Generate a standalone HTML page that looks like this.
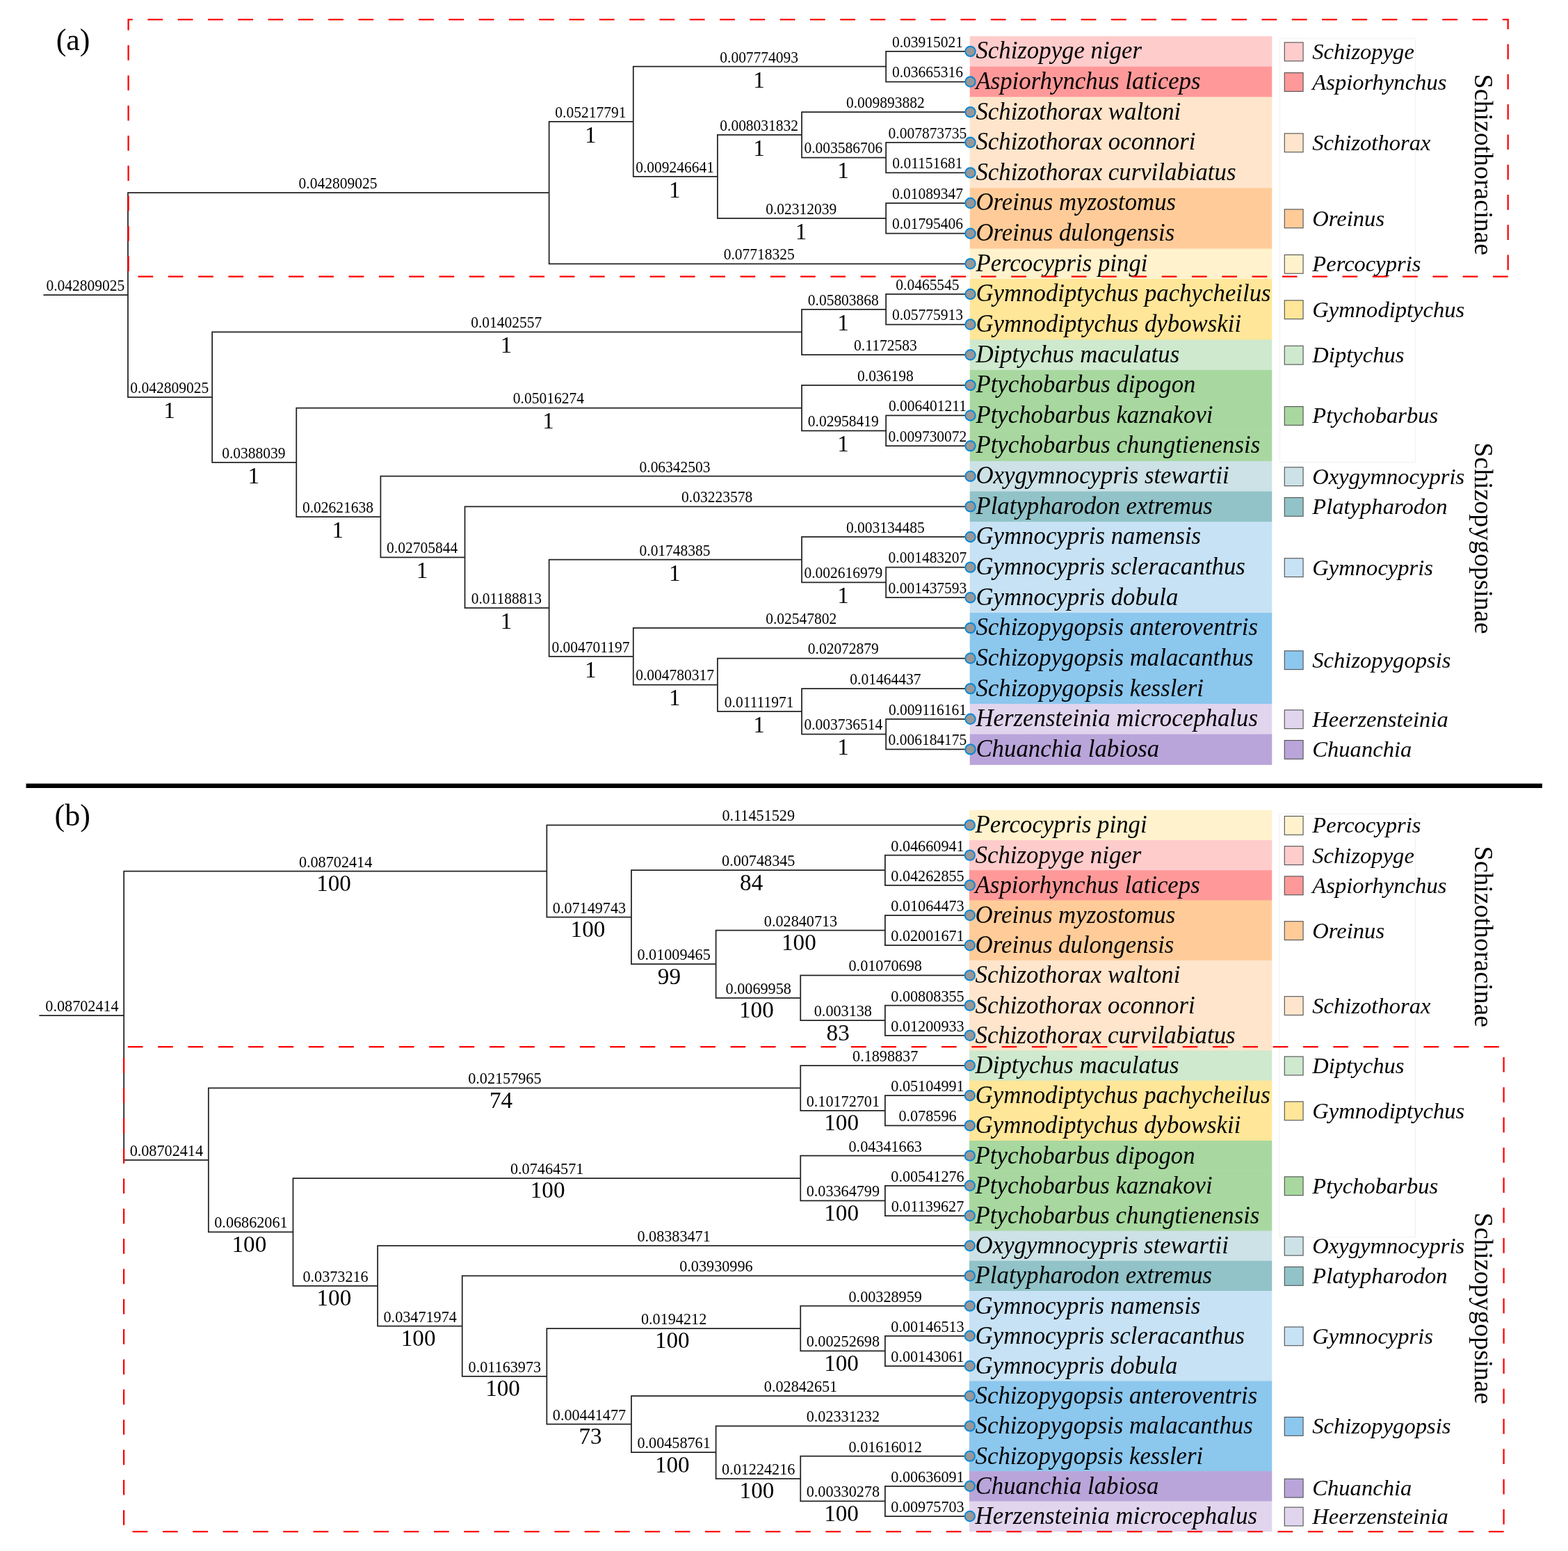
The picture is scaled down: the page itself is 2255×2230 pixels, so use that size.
<!DOCTYPE html>
<html><head><meta charset="utf-8"><title>Phylogenetic trees</title>
<style>
html,body{margin:0;padding:0;background:#fff;overflow:hidden;}
svg{display:block;}
text{font-family:"Liberation Serif","Times New Roman",serif;fill:#000;}
.bl{text-anchor:middle;}
.sp{text-anchor:middle;font-size:33.2px;}
.sn{font-style:italic;font-size:34.8px;}
.lg{font-style:italic;font-size:32.6px;}
.vl{font-size:37.85px;}
.pl{font-size:44px;}
</style></head><body>
<svg width="2255" height="2230" viewBox="0 0 2255 2230">
<rect width="2255" height="2230" fill="#fff"/>
<rect x="1394.7" y="52.09" width="434.6" height="44.23" fill="#FFCCCC"/>
<rect x="1394.7" y="95.72" width="434.6" height="44.23" fill="#FF9999"/>
<rect x="1394.7" y="139.35" width="434.6" height="44.23" fill="#FFE5CC"/>
<rect x="1394.7" y="182.98" width="434.6" height="44.23" fill="#FFE5CC"/>
<rect x="1394.7" y="226.61" width="434.6" height="44.23" fill="#FFE5CC"/>
<rect x="1394.7" y="270.24" width="434.6" height="44.23" fill="#FFCC99"/>
<rect x="1394.7" y="313.87" width="434.6" height="44.23" fill="#FFCC99"/>
<rect x="1394.7" y="357.5" width="434.6" height="44.23" fill="#FFF2CC"/>
<rect x="1394.7" y="401.13" width="434.6" height="44.23" fill="#FFE699"/>
<rect x="1394.7" y="444.76" width="434.6" height="44.23" fill="#FFE699"/>
<rect x="1394.7" y="488.39" width="434.6" height="44.23" fill="#CEE9CE"/>
<rect x="1394.7" y="532.01" width="434.6" height="44.23" fill="#A8D8A0"/>
<rect x="1394.7" y="575.64" width="434.6" height="44.23" fill="#A8D8A0"/>
<rect x="1394.7" y="619.27" width="434.6" height="44.23" fill="#A8D8A0"/>
<rect x="1394.7" y="662.9" width="434.6" height="44.23" fill="#CCE2E6"/>
<rect x="1394.7" y="706.53" width="434.6" height="44.23" fill="#91C3C8"/>
<rect x="1394.7" y="750.16" width="434.6" height="44.23" fill="#C7E2F4"/>
<rect x="1394.7" y="793.79" width="434.6" height="44.23" fill="#C7E2F4"/>
<rect x="1394.7" y="837.42" width="434.6" height="44.23" fill="#C7E2F4"/>
<rect x="1394.7" y="881.05" width="434.6" height="44.23" fill="#8CC7EE"/>
<rect x="1394.7" y="924.68" width="434.6" height="44.23" fill="#8CC7EE"/>
<rect x="1394.7" y="968.31" width="434.6" height="44.23" fill="#8CC7EE"/>
<rect x="1394.7" y="1011.94" width="434.6" height="44.23" fill="#E1D5EE"/>
<rect x="1394.7" y="1055.58" width="434.6" height="44.23" fill="#B9A5DA"/>
<path d="M184 277.05L184 571.13 M184 277.05L789.65 277.05 M789.65 174.79L789.65 379.31 M789.65 174.79L910.78 174.79 M910.78 95.72L910.78 253.87 M910.78 95.72L1274.17 95.72 M1274.17 73.9L1274.17 117.53 M1274.17 73.9L1395.3 73.9 M1274.17 117.53L1395.3 117.53 M910.78 253.87L1031.91 253.87 M1031.91 193.88L1031.91 313.87 M1031.91 193.88L1153.04 193.88 M1153.04 161.16L1153.04 226.61 M1153.04 161.16L1395.3 161.16 M1153.04 226.61L1274.17 226.61 M1274.17 204.79L1274.17 248.42 M1274.17 204.79L1395.3 204.79 M1274.17 248.42L1395.3 248.42 M1031.91 313.87L1274.17 313.87 M1274.17 292.05L1274.17 335.68 M1274.17 292.05L1395.3 292.05 M1274.17 335.68L1395.3 335.68 M789.65 379.31L1395.3 379.31 M184 571.13L305.13 571.13 M305.13 477.48L305.13 664.78 M305.13 477.48L1153.04 477.48 M1153.04 444.76L1153.04 510.2 M1153.04 444.76L1274.17 444.76 M1274.17 422.94L1274.17 466.57 M1274.17 422.94L1395.3 422.94 M1274.17 466.57L1395.3 466.57 M1153.04 510.2L1395.3 510.2 M305.13 664.78L426.26 664.78 M426.26 586.55L426.26 743.01 M426.26 586.55L1153.04 586.55 M1153.04 553.83L1153.04 619.28 M1153.04 553.83L1395.3 553.83 M1153.04 619.28L1274.17 619.28 M1274.17 597.46L1274.17 641.09 M1274.17 597.46L1395.3 597.46 M1274.17 641.09L1395.3 641.09 M426.26 743.01L547.39 743.01 M547.39 684.72L547.39 801.29 M547.39 684.72L1395.3 684.72 M547.39 801.29L668.52 801.29 M668.52 728.35L668.52 874.24 M668.52 728.35L1395.3 728.35 M668.52 874.24L789.65 874.24 M789.65 804.7L789.65 943.77 M789.65 804.7L1153.04 804.7 M1153.04 771.98L1153.04 837.42 M1153.04 771.98L1395.3 771.98 M1153.04 837.42L1274.17 837.42 M1274.17 815.61L1274.17 859.24 M1274.17 815.61L1395.3 815.61 M1274.17 859.24L1395.3 859.24 M789.65 943.77L910.78 943.77 M910.78 902.87L910.78 984.68 M910.78 902.87L1395.3 902.87 M910.78 984.68L1031.91 984.68 M1031.91 946.5L1031.91 1022.85 M1031.91 946.5L1395.3 946.5 M1031.91 1022.85L1153.04 1022.85 M1153.04 990.13L1153.04 1055.58 M1153.04 990.13L1395.3 990.13 M1153.04 1055.58L1274.17 1055.58 M1274.17 1033.76L1274.17 1077.39 M1274.17 1033.76L1395.3 1033.76 M1274.17 1077.39L1395.3 1077.39 M63.3 424.09L184 424.09" stroke="#222222" stroke-width="1.75" fill="none" stroke-linecap="square"/>
<circle cx="1395.5" cy="73.9" r="7.2" fill="#989898" stroke="#0a88d6" stroke-width="2"/>
<circle cx="1395.5" cy="117.53" r="7.2" fill="#989898" stroke="#0a88d6" stroke-width="2"/>
<circle cx="1395.5" cy="161.16" r="7.2" fill="#989898" stroke="#0a88d6" stroke-width="2"/>
<circle cx="1395.5" cy="204.79" r="7.2" fill="#989898" stroke="#0a88d6" stroke-width="2"/>
<circle cx="1395.5" cy="248.42" r="7.2" fill="#989898" stroke="#0a88d6" stroke-width="2"/>
<circle cx="1395.5" cy="292.05" r="7.2" fill="#989898" stroke="#0a88d6" stroke-width="2"/>
<circle cx="1395.5" cy="335.68" r="7.2" fill="#989898" stroke="#0a88d6" stroke-width="2"/>
<circle cx="1395.5" cy="379.31" r="7.2" fill="#989898" stroke="#0a88d6" stroke-width="2"/>
<circle cx="1395.5" cy="422.94" r="7.2" fill="#989898" stroke="#0a88d6" stroke-width="2"/>
<circle cx="1395.5" cy="466.57" r="7.2" fill="#989898" stroke="#0a88d6" stroke-width="2"/>
<circle cx="1395.5" cy="510.2" r="7.2" fill="#989898" stroke="#0a88d6" stroke-width="2"/>
<circle cx="1395.5" cy="553.83" r="7.2" fill="#989898" stroke="#0a88d6" stroke-width="2"/>
<circle cx="1395.5" cy="597.46" r="7.2" fill="#989898" stroke="#0a88d6" stroke-width="2"/>
<circle cx="1395.5" cy="641.09" r="7.2" fill="#989898" stroke="#0a88d6" stroke-width="2"/>
<circle cx="1395.5" cy="684.72" r="7.2" fill="#989898" stroke="#0a88d6" stroke-width="2"/>
<circle cx="1395.5" cy="728.35" r="7.2" fill="#989898" stroke="#0a88d6" stroke-width="2"/>
<circle cx="1395.5" cy="771.98" r="7.2" fill="#989898" stroke="#0a88d6" stroke-width="2"/>
<circle cx="1395.5" cy="815.61" r="7.2" fill="#989898" stroke="#0a88d6" stroke-width="2"/>
<circle cx="1395.5" cy="859.24" r="7.2" fill="#989898" stroke="#0a88d6" stroke-width="2"/>
<circle cx="1395.5" cy="902.87" r="7.2" fill="#989898" stroke="#0a88d6" stroke-width="2"/>
<circle cx="1395.5" cy="946.5" r="7.2" fill="#989898" stroke="#0a88d6" stroke-width="2"/>
<circle cx="1395.5" cy="990.13" r="7.2" fill="#989898" stroke="#0a88d6" stroke-width="2"/>
<circle cx="1395.5" cy="1033.76" r="7.2" fill="#989898" stroke="#0a88d6" stroke-width="2"/>
<circle cx="1395.5" cy="1077.39" r="7.2" fill="#989898" stroke="#0a88d6" stroke-width="2"/>
<text transform="translate(486.02 270.85) scale(1 1.05)" class="bl" style="font-size:21.5px">0.042809025</text>
<text transform="translate(849.41 168.59) scale(1 1.05)" class="bl" style="font-size:21.5px">0.05217791</text>
<text transform="translate(849.21 204.59) scale(1 1)" class="sp">1</text>
<text transform="translate(1091.67 89.52) scale(1 1.05)" class="bl" style="font-size:21.5px">0.007774093</text>
<text transform="translate(1091.47 125.52) scale(1 1)" class="sp">1</text>
<text transform="translate(1333.94 67.7) scale(1 1.05)" class="bl" style="font-size:21.5px">0.03915021</text>
<text transform="translate(1333.94 111.33) scale(1 1.05)" class="bl" style="font-size:21.5px">0.03665316</text>
<text transform="translate(970.54 247.67) scale(1 1.05)" class="bl" style="font-size:21.5px">0.009246641</text>
<text transform="translate(970.34 283.67) scale(1 1)" class="sp">1</text>
<text transform="translate(1091.67 187.68) scale(1 1.05)" class="bl" style="font-size:21.5px">0.008031832</text>
<text transform="translate(1091.47 223.68) scale(1 1)" class="sp">1</text>
<text transform="translate(1273.37 154.96) scale(1 1.05)" class="bl" style="font-size:21.5px">0.009893882</text>
<text transform="translate(1212.81 220.41) scale(1 1.05)" class="bl" style="font-size:21.5px">0.003586706</text>
<text transform="translate(1212.61 256.41) scale(1 1)" class="sp">1</text>
<text transform="translate(1333.94 198.59) scale(1 1.05)" class="bl" style="font-size:21.5px">0.007873735</text>
<text transform="translate(1333.94 242.22) scale(1 1.05)" class="bl" style="font-size:21.5px">0.01151681</text>
<text transform="translate(1152.24 307.67) scale(1 1.05)" class="bl" style="font-size:21.5px">0.02312039</text>
<text transform="translate(1152.04 343.67) scale(1 1)" class="sp">1</text>
<text transform="translate(1333.94 285.85) scale(1 1.05)" class="bl" style="font-size:21.5px">0.01089347</text>
<text transform="translate(1333.94 329.48) scale(1 1.05)" class="bl" style="font-size:21.5px">0.01795406</text>
<text transform="translate(1091.67 373.11) scale(1 1.05)" class="bl" style="font-size:21.5px">0.07718325</text>
<text transform="translate(243.76 564.93) scale(1 1.05)" class="bl" style="font-size:21.5px">0.042809025</text>
<text transform="translate(243.56 600.93) scale(1 1)" class="sp">1</text>
<text transform="translate(728.29 471.28) scale(1 1.05)" class="bl" style="font-size:21.5px">0.01402557</text>
<text transform="translate(728.09 507.28) scale(1 1)" class="sp">1</text>
<text transform="translate(1212.81 438.56) scale(1 1.05)" class="bl" style="font-size:21.5px">0.05803868</text>
<text transform="translate(1212.61 474.56) scale(1 1)" class="sp">1</text>
<text transform="translate(1333.94 416.74) scale(1 1.05)" class="bl" style="font-size:21.5px">0.0465545</text>
<text transform="translate(1333.94 460.37) scale(1 1.05)" class="bl" style="font-size:21.5px">0.05775913</text>
<text transform="translate(1273.37 504) scale(1 1.05)" class="bl" style="font-size:21.5px">0.1172583</text>
<text transform="translate(364.89 658.58) scale(1 1.05)" class="bl" style="font-size:21.5px">0.0388039</text>
<text transform="translate(364.69 694.58) scale(1 1)" class="sp">1</text>
<text transform="translate(788.85 580.35) scale(1 1.05)" class="bl" style="font-size:21.5px">0.05016274</text>
<text transform="translate(788.65 616.35) scale(1 1)" class="sp">1</text>
<text transform="translate(1273.37 547.63) scale(1 1.05)" class="bl" style="font-size:21.5px">0.036198</text>
<text transform="translate(1212.81 613.08) scale(1 1.05)" class="bl" style="font-size:21.5px">0.02958419</text>
<text transform="translate(1212.61 649.08) scale(1 1)" class="sp">1</text>
<text transform="translate(1333.94 591.26) scale(1 1.05)" class="bl" style="font-size:21.5px">0.006401211</text>
<text transform="translate(1333.94 634.89) scale(1 1.05)" class="bl" style="font-size:21.5px">0.009730072</text>
<text transform="translate(486.02 736.81) scale(1 1.05)" class="bl" style="font-size:21.5px">0.02621638</text>
<text transform="translate(485.82 772.81) scale(1 1)" class="sp">1</text>
<text transform="translate(970.55 678.52) scale(1 1.05)" class="bl" style="font-size:21.5px">0.06342503</text>
<text transform="translate(607.15 795.09) scale(1 1.05)" class="bl" style="font-size:21.5px">0.02705844</text>
<text transform="translate(606.95 831.09) scale(1 1)" class="sp">1</text>
<text transform="translate(1031.11 722.15) scale(1 1.05)" class="bl" style="font-size:21.5px">0.03223578</text>
<text transform="translate(728.29 868.04) scale(1 1.05)" class="bl" style="font-size:21.5px">0.01188813</text>
<text transform="translate(728.09 904.04) scale(1 1)" class="sp">1</text>
<text transform="translate(970.55 798.5) scale(1 1.05)" class="bl" style="font-size:21.5px">0.01748385</text>
<text transform="translate(970.35 834.5) scale(1 1)" class="sp">1</text>
<text transform="translate(1273.37 765.78) scale(1 1.05)" class="bl" style="font-size:21.5px">0.003134485</text>
<text transform="translate(1212.81 831.22) scale(1 1.05)" class="bl" style="font-size:21.5px">0.002616979</text>
<text transform="translate(1212.61 867.22) scale(1 1)" class="sp">1</text>
<text transform="translate(1333.94 809.41) scale(1 1.05)" class="bl" style="font-size:21.5px">0.001483207</text>
<text transform="translate(1333.94 853.04) scale(1 1.05)" class="bl" style="font-size:21.5px">0.001437593</text>
<text transform="translate(849.41 937.57) scale(1 1.05)" class="bl" style="font-size:21.5px">0.004701197</text>
<text transform="translate(849.21 973.57) scale(1 1)" class="sp">1</text>
<text transform="translate(1152.24 896.67) scale(1 1.05)" class="bl" style="font-size:21.5px">0.02547802</text>
<text transform="translate(970.54 978.48) scale(1 1.05)" class="bl" style="font-size:21.5px">0.004780317</text>
<text transform="translate(970.34 1014.48) scale(1 1)" class="sp">1</text>
<text transform="translate(1212.81 940.3) scale(1 1.05)" class="bl" style="font-size:21.5px">0.02072879</text>
<text transform="translate(1091.67 1016.65) scale(1 1.05)" class="bl" style="font-size:21.5px">0.01111971</text>
<text transform="translate(1091.47 1052.65) scale(1 1)" class="sp">1</text>
<text transform="translate(1273.37 983.93) scale(1 1.05)" class="bl" style="font-size:21.5px">0.01464437</text>
<text transform="translate(1212.81 1049.38) scale(1 1.05)" class="bl" style="font-size:21.5px">0.003736514</text>
<text transform="translate(1212.61 1085.38) scale(1 1)" class="sp">1</text>
<text transform="translate(1333.94 1027.56) scale(1 1.05)" class="bl" style="font-size:21.5px">0.009116161</text>
<text transform="translate(1333.94 1071.19) scale(1 1.05)" class="bl" style="font-size:21.5px">0.006184175</text>
<text transform="translate(122.85 417.89) scale(1 1.05)" class="bl" style="font-size:21.5px">0.042809025</text>
<text x="1403.4" y="84.3" class="sn">Schizopyge niger</text>
<text x="1403.4" y="127.93" class="sn">Aspiorhynchus laticeps</text>
<text x="1403.4" y="171.56" class="sn">Schizothorax waltoni</text>
<text x="1403.4" y="215.19" class="sn">Schizothorax oconnori</text>
<text x="1403.4" y="258.82" class="sn">Schizothorax curvilabiatus</text>
<text x="1403.4" y="302.45" class="sn">Oreinus myzostomus</text>
<text x="1403.4" y="346.08" class="sn">Oreinus dulongensis</text>
<text x="1403.4" y="389.71" class="sn">Percocypris pingi</text>
<text x="1403.4" y="433.34" class="sn">Gymnodiptychus pachycheilus</text>
<text x="1403.4" y="476.97" class="sn">Gymnodiptychus dybowskii</text>
<text x="1403.4" y="520.6" class="sn">Diptychus maculatus</text>
<text x="1403.4" y="564.23" class="sn">Ptychobarbus dipogon</text>
<text x="1403.4" y="607.86" class="sn">Ptychobarbus kaznakovi</text>
<text x="1403.4" y="651.49" class="sn">Ptychobarbus chungtienensis</text>
<text x="1403.4" y="695.12" class="sn">Oxygymnocypris stewartii</text>
<text x="1403.4" y="738.75" class="sn">Platypharodon extremus</text>
<text x="1403.4" y="782.38" class="sn">Gymnocypris namensis</text>
<text x="1403.4" y="826.01" class="sn">Gymnocypris scleracanthus</text>
<text x="1403.4" y="869.64" class="sn">Gymnocypris dobula</text>
<text x="1403.4" y="913.27" class="sn">Schizopygopsis anteroventris</text>
<text x="1403.4" y="956.9" class="sn">Schizopygopsis malacanthus</text>
<text x="1403.4" y="1000.53" class="sn">Schizopygopsis kessleri</text>
<text x="1403.4" y="1044.16" class="sn">Herzensteinia microcephalus</text>
<text x="1403.4" y="1087.79" class="sn">Chuanchia labiosa</text>
<rect x="1840.5" y="55.3" width="195" height="609.2" fill="none" stroke="#f1f1f1" stroke-width="1.1"/>
<rect x="1847.3" y="61" width="26.8" height="26.8" fill="#FFCCCC" stroke="#505050" stroke-width="1.1"/>
<text x="1887.3" y="84.9" class="lg">Schizopyge</text>
<rect x="1847.3" y="104.63" width="26.8" height="26.8" fill="#FF9999" stroke="#505050" stroke-width="1.1"/>
<text x="1887.3" y="128.53" class="lg">Aspiorhynchus</text>
<rect x="1847.3" y="191.89" width="26.8" height="26.8" fill="#FFE5CC" stroke="#505050" stroke-width="1.1"/>
<text x="1887.3" y="215.79" class="lg">Schizothorax</text>
<rect x="1847.3" y="300.97" width="26.8" height="26.8" fill="#FFCC99" stroke="#505050" stroke-width="1.1"/>
<text x="1887.3" y="324.87" class="lg">Oreinus</text>
<rect x="1847.3" y="366.41" width="26.8" height="26.8" fill="#FFF2CC" stroke="#505050" stroke-width="1.1"/>
<text x="1887.3" y="390.31" class="lg">Percocypris</text>
<rect x="1847.3" y="431.86" width="26.8" height="26.8" fill="#FFE699" stroke="#505050" stroke-width="1.1"/>
<text x="1887.3" y="455.76" class="lg">Gymnodiptychus</text>
<rect x="1847.3" y="497.3" width="26.8" height="26.8" fill="#CEE9CE" stroke="#505050" stroke-width="1.1"/>
<text x="1887.3" y="521.2" class="lg">Diptychus</text>
<rect x="1847.3" y="584.56" width="26.8" height="26.8" fill="#A8D8A0" stroke="#505050" stroke-width="1.1"/>
<text x="1887.3" y="608.46" class="lg">Ptychobarbus</text>
<rect x="1847.3" y="671.82" width="26.8" height="26.8" fill="#CCE2E6" stroke="#505050" stroke-width="1.1"/>
<text x="1887.3" y="695.72" class="lg">Oxygymnocypris</text>
<rect x="1847.3" y="715.45" width="26.8" height="26.8" fill="#91C3C8" stroke="#505050" stroke-width="1.1"/>
<text x="1887.3" y="739.35" class="lg">Platypharodon</text>
<rect x="1847.3" y="802.71" width="26.8" height="26.8" fill="#C7E2F4" stroke="#505050" stroke-width="1.1"/>
<text x="1887.3" y="826.61" class="lg">Gymnocypris</text>
<rect x="1847.3" y="935.8" width="26.8" height="26.8" fill="#8CC7EE" stroke="#505050" stroke-width="1.1"/>
<text x="1887.3" y="959.7" class="lg">Schizopygopsis</text>
<rect x="1847.3" y="1020.86" width="26.8" height="26.8" fill="#E1D5EE" stroke="#505050" stroke-width="1.1"/>
<text x="1887.3" y="1044.76" class="lg">Heerzensteinia</text>
<rect x="1847.3" y="1064.49" width="26.8" height="26.8" fill="#B9A5DA" stroke="#505050" stroke-width="1.1"/>
<text x="1887.3" y="1088.39" class="lg">Chuanchia</text>
<text transform="translate(2121.4 106.6) rotate(90)" x="0" y="0" class="vl">Schizothoracinae</text>
<text transform="translate(2121.4 636.3) rotate(90)" x="0" y="0" class="vl">Schizopygopsinae</text>
<path d="M2168.7 397.6H184.6V28H2168.7V397.6" fill="none" stroke="#ff0000" stroke-width="2.25" stroke-dasharray="21.7 21.6"/>
<rect x="1393.9" y="1164.8" width="435.4" height="43.8" fill="#FFF2CC"/>
<rect x="1393.9" y="1208" width="435.4" height="43.8" fill="#FFCCCC"/>
<rect x="1393.9" y="1251.2" width="435.4" height="43.8" fill="#FF9999"/>
<rect x="1393.9" y="1294.4" width="435.4" height="43.8" fill="#FFCC99"/>
<rect x="1393.9" y="1337.6" width="435.4" height="43.8" fill="#FFCC99"/>
<rect x="1393.9" y="1380.8" width="435.4" height="43.8" fill="#FFE5CC"/>
<rect x="1393.9" y="1424" width="435.4" height="43.8" fill="#FFE5CC"/>
<rect x="1393.9" y="1467.2" width="435.4" height="43.8" fill="#FFE5CC"/>
<rect x="1393.9" y="1510.4" width="435.4" height="43.8" fill="#CEE9CE"/>
<rect x="1393.9" y="1553.6" width="435.4" height="43.8" fill="#FFE699"/>
<rect x="1393.9" y="1596.8" width="435.4" height="43.8" fill="#FFE699"/>
<rect x="1393.9" y="1640" width="435.4" height="43.8" fill="#A8D8A0"/>
<rect x="1393.9" y="1683.2" width="435.4" height="43.8" fill="#A8D8A0"/>
<rect x="1393.9" y="1726.4" width="435.4" height="43.8" fill="#A8D8A0"/>
<rect x="1393.9" y="1769.6" width="435.4" height="43.8" fill="#CCE2E6"/>
<rect x="1393.9" y="1812.8" width="435.4" height="43.8" fill="#91C3C8"/>
<rect x="1393.9" y="1856" width="435.4" height="43.8" fill="#C7E2F4"/>
<rect x="1393.9" y="1899.2" width="435.4" height="43.8" fill="#C7E2F4"/>
<rect x="1393.9" y="1942.4" width="435.4" height="43.8" fill="#C7E2F4"/>
<rect x="1393.9" y="1985.6" width="435.4" height="43.8" fill="#8CC7EE"/>
<rect x="1393.9" y="2028.8" width="435.4" height="43.8" fill="#8CC7EE"/>
<rect x="1393.9" y="2072" width="435.4" height="43.8" fill="#8CC7EE"/>
<rect x="1393.9" y="2115.2" width="435.4" height="43.8" fill="#B9A5DA"/>
<rect x="1393.9" y="2158.4" width="435.4" height="43.8" fill="#E1D5EE"/>
<path d="M178.2 1252.55L178.2 1667.93 M178.2 1252.55L786.35 1252.55 M786.35 1186.4L786.35 1318.7 M786.35 1186.4L1394.5 1186.4 M786.35 1318.7L907.98 1318.7 M907.98 1251.2L907.98 1386.2 M907.98 1251.2L1272.87 1251.2 M1272.87 1229.6L1272.87 1272.8 M1272.87 1229.6L1394.5 1229.6 M1272.87 1272.8L1394.5 1272.8 M907.98 1386.2L1029.61 1386.2 M1029.61 1337.6L1029.61 1434.8 M1029.61 1337.6L1272.87 1337.6 M1272.87 1316L1272.87 1359.2 M1272.87 1316L1394.5 1316 M1272.87 1359.2L1394.5 1359.2 M1029.61 1434.8L1151.24 1434.8 M1151.24 1402.4L1151.24 1467.2 M1151.24 1402.4L1394.5 1402.4 M1151.24 1467.2L1272.87 1467.2 M1272.87 1445.6L1272.87 1488.8 M1272.87 1445.6L1394.5 1445.6 M1272.87 1488.8L1394.5 1488.8 M178.2 1667.93L299.83 1667.93 M299.83 1564.4L299.83 1771.46 M299.83 1564.4L1151.24 1564.4 M1151.24 1532L1151.24 1596.8 M1151.24 1532L1394.5 1532 M1151.24 1596.8L1272.87 1596.8 M1272.87 1575.2L1272.87 1618.4 M1272.87 1575.2L1394.5 1575.2 M1272.87 1618.4L1394.5 1618.4 M299.83 1771.46L421.46 1771.46 M421.46 1694L421.46 1848.91 M421.46 1694L1151.24 1694 M1151.24 1661.6L1151.24 1726.4 M1151.24 1661.6L1394.5 1661.6 M1151.24 1726.4L1272.87 1726.4 M1272.87 1704.8L1272.87 1748 M1272.87 1704.8L1394.5 1704.8 M1272.87 1748L1394.5 1748 M421.46 1848.91L543.09 1848.91 M543.09 1791.2L543.09 1906.62 M543.09 1791.2L1394.5 1791.2 M543.09 1906.62L664.72 1906.62 M664.72 1834.4L664.72 1978.85 M664.72 1834.4L1394.5 1834.4 M664.72 1978.85L786.35 1978.85 M786.35 1910L786.35 2047.7 M786.35 1910L1151.24 1910 M1151.24 1877.6L1151.24 1942.4 M1151.24 1877.6L1394.5 1877.6 M1151.24 1942.4L1272.87 1942.4 M1272.87 1920.8L1272.87 1964 M1272.87 1920.8L1394.5 1920.8 M1272.87 1964L1394.5 1964 M786.35 2047.7L907.98 2047.7 M907.98 2007.2L907.98 2088.2 M907.98 2007.2L1394.5 2007.2 M907.98 2088.2L1029.61 2088.2 M1029.61 2050.4L1029.61 2126 M1029.61 2050.4L1394.5 2050.4 M1029.61 2126L1151.24 2126 M1151.24 2093.6L1151.24 2158.4 M1151.24 2093.6L1394.5 2093.6 M1151.24 2158.4L1272.87 2158.4 M1272.87 2136.8L1272.87 2180 M1272.87 2136.8L1394.5 2136.8 M1272.87 2180L1394.5 2180 M57.2 1460.24L178.2 1460.24" stroke="#222222" stroke-width="1.75" fill="none" stroke-linecap="square"/>
<circle cx="1394.8" cy="1186.4" r="7.2" fill="#989898" stroke="#0a88d6" stroke-width="2"/>
<circle cx="1394.8" cy="1229.6" r="7.2" fill="#989898" stroke="#0a88d6" stroke-width="2"/>
<circle cx="1394.8" cy="1272.8" r="7.2" fill="#989898" stroke="#0a88d6" stroke-width="2"/>
<circle cx="1394.8" cy="1316" r="7.2" fill="#989898" stroke="#0a88d6" stroke-width="2"/>
<circle cx="1394.8" cy="1359.2" r="7.2" fill="#989898" stroke="#0a88d6" stroke-width="2"/>
<circle cx="1394.8" cy="1402.4" r="7.2" fill="#989898" stroke="#0a88d6" stroke-width="2"/>
<circle cx="1394.8" cy="1445.6" r="7.2" fill="#989898" stroke="#0a88d6" stroke-width="2"/>
<circle cx="1394.8" cy="1488.8" r="7.2" fill="#989898" stroke="#0a88d6" stroke-width="2"/>
<circle cx="1394.8" cy="1532" r="7.2" fill="#989898" stroke="#0a88d6" stroke-width="2"/>
<circle cx="1394.8" cy="1575.2" r="7.2" fill="#989898" stroke="#0a88d6" stroke-width="2"/>
<circle cx="1394.8" cy="1618.4" r="7.2" fill="#989898" stroke="#0a88d6" stroke-width="2"/>
<circle cx="1394.8" cy="1661.6" r="7.2" fill="#989898" stroke="#0a88d6" stroke-width="2"/>
<circle cx="1394.8" cy="1704.8" r="7.2" fill="#989898" stroke="#0a88d6" stroke-width="2"/>
<circle cx="1394.8" cy="1748" r="7.2" fill="#989898" stroke="#0a88d6" stroke-width="2"/>
<circle cx="1394.8" cy="1791.2" r="7.2" fill="#989898" stroke="#0a88d6" stroke-width="2"/>
<circle cx="1394.8" cy="1834.4" r="7.2" fill="#989898" stroke="#0a88d6" stroke-width="2"/>
<circle cx="1394.8" cy="1877.6" r="7.2" fill="#989898" stroke="#0a88d6" stroke-width="2"/>
<circle cx="1394.8" cy="1920.8" r="7.2" fill="#989898" stroke="#0a88d6" stroke-width="2"/>
<circle cx="1394.8" cy="1964" r="7.2" fill="#989898" stroke="#0a88d6" stroke-width="2"/>
<circle cx="1394.8" cy="2007.2" r="7.2" fill="#989898" stroke="#0a88d6" stroke-width="2"/>
<circle cx="1394.8" cy="2050.4" r="7.2" fill="#989898" stroke="#0a88d6" stroke-width="2"/>
<circle cx="1394.8" cy="2093.6" r="7.2" fill="#989898" stroke="#0a88d6" stroke-width="2"/>
<circle cx="1394.8" cy="2136.8" r="7.2" fill="#989898" stroke="#0a88d6" stroke-width="2"/>
<circle cx="1394.8" cy="2180" r="7.2" fill="#989898" stroke="#0a88d6" stroke-width="2"/>
<text transform="translate(482.57 1246.55) scale(1 1.04)" class="bl" style="font-size:22.2px">0.08702414</text>
<text transform="translate(480.07 1280.95) scale(1 1.035)" class="sp">100</text>
<text transform="translate(1090.72 1180.4) scale(1 1.04)" class="bl" style="font-size:22.2px">0.11451529</text>
<text transform="translate(847.46 1312.7) scale(1 1.04)" class="bl" style="font-size:22.2px">0.07149743</text>
<text transform="translate(845.47 1347.1) scale(1 1.035)" class="sp">100</text>
<text transform="translate(1090.73 1245.2) scale(1 1.04)" class="bl" style="font-size:22.2px">0.00748345</text>
<text transform="translate(1080.67 1279.6) scale(1 1.035)" class="sp">84</text>
<text transform="translate(1333.98 1223.6) scale(1 1.04)" class="bl" style="font-size:22.2px">0.04660941</text>
<text transform="translate(1333.98 1266.8) scale(1 1.04)" class="bl" style="font-size:22.2px">0.04262855</text>
<text transform="translate(969.09 1380.2) scale(1 1.04)" class="bl" style="font-size:22.2px">0.01009465</text>
<text transform="translate(962.37 1414.6) scale(1 1.035)" class="sp">99</text>
<text transform="translate(1151.54 1331.6) scale(1 1.04)" class="bl" style="font-size:22.2px">0.02840713</text>
<text transform="translate(1148.87 1366) scale(1 1.035)" class="sp">100</text>
<text transform="translate(1333.98 1310) scale(1 1.04)" class="bl" style="font-size:22.2px">0.01064473</text>
<text transform="translate(1333.98 1353.2) scale(1 1.04)" class="bl" style="font-size:22.2px">0.02001671</text>
<text transform="translate(1090.72 1428.8) scale(1 1.04)" class="bl" style="font-size:22.2px">0.0069958</text>
<text transform="translate(1087.87 1463.2) scale(1 1.035)" class="sp">100</text>
<text transform="translate(1273.17 1396.4) scale(1 1.04)" class="bl" style="font-size:22.2px">0.01070698</text>
<text transform="translate(1212.36 1461.2) scale(1 1.04)" class="bl" style="font-size:22.2px">0.003138</text>
<text transform="translate(1205.2 1495.6) scale(1 1.035)" class="sp">83</text>
<text transform="translate(1333.98 1439.6) scale(1 1.04)" class="bl" style="font-size:22.2px">0.00808355</text>
<text transform="translate(1333.98 1482.8) scale(1 1.04)" class="bl" style="font-size:22.2px">0.01200933</text>
<text transform="translate(239.31 1661.93) scale(1 1.04)" class="bl" style="font-size:22.2px">0.08702414</text>
<text transform="translate(725.83 1558.4) scale(1 1.04)" class="bl" style="font-size:22.2px">0.02157965</text>
<text transform="translate(720.47 1592.8) scale(1 1.035)" class="sp">74</text>
<text transform="translate(1273.17 1526) scale(1 1.04)" class="bl" style="font-size:22.2px">0.1898837</text>
<text transform="translate(1212.36 1590.8) scale(1 1.04)" class="bl" style="font-size:22.2px">0.10172701</text>
<text transform="translate(1210.17 1625.2) scale(1 1.035)" class="sp">100</text>
<text transform="translate(1333.98 1569.2) scale(1 1.04)" class="bl" style="font-size:22.2px">0.05104991</text>
<text transform="translate(1333.98 1612.4) scale(1 1.04)" class="bl" style="font-size:22.2px">0.078596</text>
<text transform="translate(360.94 1765.46) scale(1 1.04)" class="bl" style="font-size:22.2px">0.06862061</text>
<text transform="translate(358.37 1799.86) scale(1 1.035)" class="sp">100</text>
<text transform="translate(786.65 1688) scale(1 1.04)" class="bl" style="font-size:22.2px">0.07464571</text>
<text transform="translate(787.67 1722.4) scale(1 1.035)" class="sp">100</text>
<text transform="translate(1273.17 1655.6) scale(1 1.04)" class="bl" style="font-size:22.2px">0.04341663</text>
<text transform="translate(1212.36 1720.4) scale(1 1.04)" class="bl" style="font-size:22.2px">0.03364799</text>
<text transform="translate(1210.17 1754.8) scale(1 1.035)" class="sp">100</text>
<text transform="translate(1333.98 1698.8) scale(1 1.04)" class="bl" style="font-size:22.2px">0.00541276</text>
<text transform="translate(1333.98 1742) scale(1 1.04)" class="bl" style="font-size:22.2px">0.01139627</text>
<text transform="translate(482.57 1842.91) scale(1 1.04)" class="bl" style="font-size:22.2px">0.0373216</text>
<text transform="translate(480.37 1877.31) scale(1 1.035)" class="sp">100</text>
<text transform="translate(969.09 1785.2) scale(1 1.04)" class="bl" style="font-size:22.2px">0.08383471</text>
<text transform="translate(604.2 1900.62) scale(1 1.04)" class="bl" style="font-size:22.2px">0.03471974</text>
<text transform="translate(601.67 1935.03) scale(1 1.035)" class="sp">100</text>
<text transform="translate(1029.91 1828.4) scale(1 1.04)" class="bl" style="font-size:22.2px">0.03930996</text>
<text transform="translate(725.83 1972.85) scale(1 1.04)" class="bl" style="font-size:22.2px">0.01163973</text>
<text transform="translate(723.07 2007.25) scale(1 1.035)" class="sp">100</text>
<text transform="translate(969.09 1904) scale(1 1.04)" class="bl" style="font-size:22.2px">0.0194212</text>
<text transform="translate(966.77 1938.4) scale(1 1.035)" class="sp">100</text>
<text transform="translate(1273.17 1871.6) scale(1 1.04)" class="bl" style="font-size:22.2px">0.00328959</text>
<text transform="translate(1212.36 1936.4) scale(1 1.04)" class="bl" style="font-size:22.2px">0.00252698</text>
<text transform="translate(1210.07 1970.8) scale(1 1.035)" class="sp">100</text>
<text transform="translate(1333.98 1914.8) scale(1 1.04)" class="bl" style="font-size:22.2px">0.00146513</text>
<text transform="translate(1333.98 1958) scale(1 1.04)" class="bl" style="font-size:22.2px">0.00143061</text>
<text transform="translate(847.46 2041.7) scale(1 1.04)" class="bl" style="font-size:22.2px">0.00441477</text>
<text transform="translate(849.1 2076.1) scale(1 1.035)" class="sp">73</text>
<text transform="translate(1151.54 2001.2) scale(1 1.04)" class="bl" style="font-size:22.2px">0.02842651</text>
<text transform="translate(969.09 2082.2) scale(1 1.04)" class="bl" style="font-size:22.2px">0.00458761</text>
<text transform="translate(966.77 2116.6) scale(1 1.035)" class="sp">100</text>
<text transform="translate(1212.35 2044.4) scale(1 1.04)" class="bl" style="font-size:22.2px">0.02331232</text>
<text transform="translate(1090.72 2120) scale(1 1.04)" class="bl" style="font-size:22.2px">0.01224216</text>
<text transform="translate(1088.47 2154.4) scale(1 1.035)" class="sp">100</text>
<text transform="translate(1273.17 2087.6) scale(1 1.04)" class="bl" style="font-size:22.2px">0.01616012</text>
<text transform="translate(1212.36 2152.4) scale(1 1.04)" class="bl" style="font-size:22.2px">0.00330278</text>
<text transform="translate(1210.07 2186.8) scale(1 1.035)" class="sp">100</text>
<text transform="translate(1333.98 2130.8) scale(1 1.04)" class="bl" style="font-size:22.2px">0.00636091</text>
<text transform="translate(1333.98 2174) scale(1 1.04)" class="bl" style="font-size:22.2px">0.00975703</text>
<text transform="translate(118 1454.24) scale(1 1.04)" class="bl" style="font-size:22.2px">0.08702414</text>
<text x="1402.6" y="1197.3" class="sn">Percocypris pingi</text>
<text x="1402.6" y="1240.5" class="sn">Schizopyge niger</text>
<text x="1402.6" y="1283.7" class="sn">Aspiorhynchus laticeps</text>
<text x="1402.6" y="1326.9" class="sn">Oreinus myzostomus</text>
<text x="1402.6" y="1370.1" class="sn">Oreinus dulongensis</text>
<text x="1402.6" y="1413.3" class="sn">Schizothorax waltoni</text>
<text x="1402.6" y="1456.5" class="sn">Schizothorax oconnori</text>
<text x="1402.6" y="1499.7" class="sn">Schizothorax curvilabiatus</text>
<text x="1402.6" y="1542.9" class="sn">Diptychus maculatus</text>
<text x="1402.6" y="1586.1" class="sn">Gymnodiptychus pachycheilus</text>
<text x="1402.6" y="1629.3" class="sn">Gymnodiptychus dybowskii</text>
<text x="1402.6" y="1672.5" class="sn">Ptychobarbus dipogon</text>
<text x="1402.6" y="1715.7" class="sn">Ptychobarbus kaznakovi</text>
<text x="1402.6" y="1758.9" class="sn">Ptychobarbus chungtienensis</text>
<text x="1402.6" y="1802.1" class="sn">Oxygymnocypris stewartii</text>
<text x="1402.6" y="1845.3" class="sn">Platypharodon extremus</text>
<text x="1402.6" y="1888.5" class="sn">Gymnocypris namensis</text>
<text x="1402.6" y="1931.7" class="sn">Gymnocypris scleracanthus</text>
<text x="1402.6" y="1974.9" class="sn">Gymnocypris dobula</text>
<text x="1402.6" y="2018.1" class="sn">Schizopygopsis anteroventris</text>
<text x="1402.6" y="2061.3" class="sn">Schizopygopsis malacanthus</text>
<text x="1402.6" y="2104.5" class="sn">Schizopygopsis kessleri</text>
<text x="1402.6" y="2147.7" class="sn">Chuanchia labiosa</text>
<text x="1402.6" y="2190.9" class="sn">Herzensteinia microcephalus</text>
<rect x="1840" y="1170" width="195.4" height="609" fill="none" stroke="#f1f1f1" stroke-width="1.1"/>
<rect x="1847.3" y="1173.5" width="26.8" height="26.8" fill="#FFF2CC" stroke="#505050" stroke-width="1.1"/>
<text x="1887.3" y="1197.4" class="lg">Percocypris</text>
<rect x="1847.3" y="1216.7" width="26.8" height="26.8" fill="#FFCCCC" stroke="#505050" stroke-width="1.1"/>
<text x="1887.3" y="1240.6" class="lg">Schizopyge</text>
<rect x="1847.3" y="1259.9" width="26.8" height="26.8" fill="#FF9999" stroke="#505050" stroke-width="1.1"/>
<text x="1887.3" y="1283.8" class="lg">Aspiorhynchus</text>
<rect x="1847.3" y="1324.7" width="26.8" height="26.8" fill="#FFCC99" stroke="#505050" stroke-width="1.1"/>
<text x="1887.3" y="1348.6" class="lg">Oreinus</text>
<rect x="1847.3" y="1432.7" width="26.8" height="26.8" fill="#FFE5CC" stroke="#505050" stroke-width="1.1"/>
<text x="1887.3" y="1456.6" class="lg">Schizothorax</text>
<rect x="1847.3" y="1519.1" width="26.8" height="26.8" fill="#CEE9CE" stroke="#505050" stroke-width="1.1"/>
<text x="1887.3" y="1543" class="lg">Diptychus</text>
<rect x="1847.3" y="1583.9" width="26.8" height="26.8" fill="#FFE699" stroke="#505050" stroke-width="1.1"/>
<text x="1887.3" y="1607.8" class="lg">Gymnodiptychus</text>
<rect x="1847.3" y="1691.9" width="26.8" height="26.8" fill="#A8D8A0" stroke="#505050" stroke-width="1.1"/>
<text x="1887.3" y="1715.8" class="lg">Ptychobarbus</text>
<rect x="1847.3" y="1778.3" width="26.8" height="26.8" fill="#CCE2E6" stroke="#505050" stroke-width="1.1"/>
<text x="1887.3" y="1802.2" class="lg">Oxygymnocypris</text>
<rect x="1847.3" y="1821.5" width="26.8" height="26.8" fill="#91C3C8" stroke="#505050" stroke-width="1.1"/>
<text x="1887.3" y="1845.4" class="lg">Platypharodon</text>
<rect x="1847.3" y="1907.9" width="26.8" height="26.8" fill="#C7E2F4" stroke="#505050" stroke-width="1.1"/>
<text x="1887.3" y="1931.8" class="lg">Gymnocypris</text>
<rect x="1847.3" y="2037.5" width="26.8" height="26.8" fill="#8CC7EE" stroke="#505050" stroke-width="1.1"/>
<text x="1887.3" y="2061.4" class="lg">Schizopygopsis</text>
<rect x="1847.3" y="2126.3" width="26.8" height="26.8" fill="#B9A5DA" stroke="#505050" stroke-width="1.1"/>
<text x="1887.3" y="2150.2" class="lg">Chuanchia</text>
<rect x="1847.3" y="2167.1" width="26.8" height="26.8" fill="#E1D5EE" stroke="#505050" stroke-width="1.1"/>
<text x="1887.3" y="2191" class="lg">Heerzensteinia</text>
<text transform="translate(2121.4 1216.6) rotate(90)" x="0" y="0" class="vl">Schizothoracinae</text>
<text transform="translate(2121.4 1743.6) rotate(90)" x="0" y="0" class="vl">Schizopygopsinae</text>
<path d="M2162.6 2202H178.1V1505.1H2162.6V2202" fill="none" stroke="#ff0000" stroke-width="2.25" stroke-dasharray="21.7 21.64"/>
<rect x="37.5" y="1126.6" width="2180.4" height="6.4" fill="#000"/>
<text x="80.7" y="71.5" class="pl">(a)</text>
<text x="78.5" y="1186.9" class="pl">(b)</text>
</svg>
</body></html>
